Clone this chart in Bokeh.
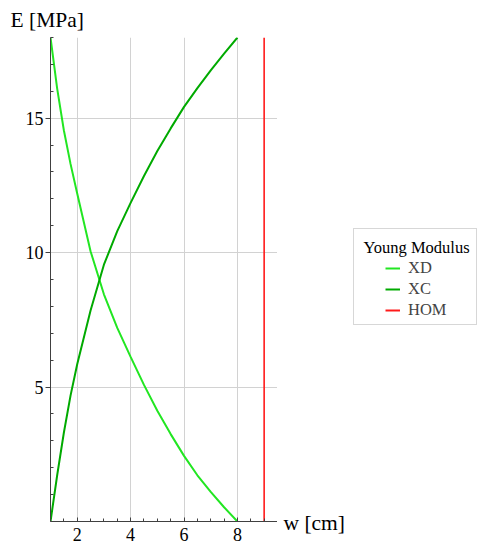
from bokeh.plotting import figure
from bokeh.layouts import row
from bokeh.models import LinearAxis, FixedTicker, Grid, Legend, LegendItem, Label, Range1d
from bokeh.embed import file_html
from bokeh.resources import INLINE

# ---- data ----
w_xd = [1, 1.25, 1.5, 1.75, 2, 2.5, 3, 3.5, 4, 4.5, 5, 5.5, 6, 6.5, 7, 7.5, 8]
e_xd = [18.0, 16.1, 14.55, 13.3, 12.2, 10.05, 8.45, 7.2, 6.12, 5.08, 4.12, 3.25, 2.44, 1.72, 1.1, 0.53, 0.0]

w_xc = [1, 1.25, 1.5, 1.75, 2, 2.5, 3, 3.5, 4, 4.5, 5, 5.5, 6, 6.5, 7, 7.5, 8]
e_xc = [0.0, 1.72, 3.3, 4.68, 5.85, 7.85, 9.55, 10.8, 11.85, 12.85, 13.78, 14.62, 15.42, 16.12, 16.78, 17.4, 18.0]

w_hom = [9, 9]
e_hom = [0, 18]

x_major = [2, 4, 6, 8]
x_minor = [1, 1.5, 2.5, 3, 3.5, 4.5, 5, 5.5, 6.5, 7, 7.5, 8.5, 9, 9.5]
y_major = [5, 10, 15]
y_minor = [1, 2, 3, 4, 6, 7, 8, 9, 11, 12, 13, 14, 16, 17, 18]

legend_title = "Young Modulus"
series_names = ["XD", "XC", "HOM"]
series_colors = ["#22e622", "#00aa00", "#ff1a1a"]
x_label = "w [cm]"
y_label = "E [MPa]"

FONT = "'Liberation Serif'"
AXIS_COLOR = "#404040"
GRID_COLOR = "#d2d2d2"

# ---------------- main plot ----------------
p = figure(width=277, height=548,
           x_range=Range1d(1, 9.5), y_range=Range1d(0, 18),
           x_axis_type=None, y_axis_type=None,
           output_backend="svg", toolbar_location=None,
           min_border_left=50, min_border_right=0,
           min_border_top=37, min_border_bottom=27)
p.outline_line_color = None
p.background_fill_color = "white"
p.border_fill_color = "white"

p.title.text = y_label
p.title.align = "left"
p.title.offset = -40
p.title.standoff = 11
p.title.text_font = FONT
p.title.text_font_size = "21.5px"
p.title.text_font_style = "normal"
p.title.text_color = "black"

xticker = FixedTicker(ticks=x_major, minor_ticks=x_minor)
yticker = FixedTicker(ticks=y_major, minor_ticks=y_minor)

p.add_layout(Grid(dimension=0, ticker=xticker, grid_line_color=GRID_COLOR, grid_line_width=1))
p.add_layout(Grid(dimension=1, ticker=yticker, grid_line_color=GRID_COLOR, grid_line_width=1))

xaxis = LinearAxis(ticker=xticker)
yaxis = LinearAxis(ticker=yticker)
for ax in (xaxis, yaxis):
    ax.axis_line_color = AXIS_COLOR
    ax.major_tick_line_color = AXIS_COLOR
    ax.minor_tick_line_color = AXIS_COLOR
    ax.major_label_text_font = FONT
    ax.major_label_text_font_size = "18px"
    ax.major_label_text_color = "black"
    ax.minor_tick_in = 3
    ax.minor_tick_out = 0
xaxis.major_tick_in = 4
xaxis.major_tick_out = 0
xaxis.major_label_standoff = 6
yaxis.major_tick_in = 0
yaxis.major_tick_out = 5
yaxis.major_label_standoff = 2
p.add_layout(xaxis, "below")
p.add_layout(yaxis, "left")

p.line(w_xd, e_xd, line_color=series_colors[0], line_width=2)
p.line(w_xc, e_xc, line_color=series_colors[1], line_width=2)
p.line(w_hom, e_hom, line_color=series_colors[2], line_width=1.6)

# ---------------- side panel (axis label + legend) ----------------
side = figure(width=205, height=548,
              x_range=Range1d(0, 1), y_range=Range1d(0, 1),
              x_axis_type=None, y_axis_type=None,
              output_backend="svg", toolbar_location=None,
              min_border=0)
side.title = None
if "frame_align" in side.properties():
    side.frame_align = False
    p.frame_align = False
side.outline_line_color = None
side.background_fill_color = "white"
side.border_fill_color = "white"

nan = float("nan")
keys = [side.line([nan], [nan], line_color=c, line_width=2) for c in series_colors]
blank = side.line([nan], [nan], line_alpha=0)

# legend title (drawn first so nothing covers it)
side.add_layout(Label(x=86, y=301, x_units="screen", y_units="screen", text=legend_title,
                      text_font=FONT, text_font_size="16.5px", text_baseline="alphabetic",
                      text_color="black"))

# legend frame (box only, transparent inside)
legend_box = Legend(items=[LegendItem(label=" ", renderers=[blank])], location=(76, 223))
legend_box.padding = 8
legend_box.margin = 0
legend_box.glyph_width = 86
legend_box.glyph_height = 79
legend_box.label_height = 79
legend_box.label_width = 20
legend_box.label_standoff = 0
legend_box.label_text_font_size = "1px"
legend_box.border_line_color = "#b0b0b0"
legend_box.border_line_width = 1
legend_box.background_fill_alpha = 0
side.add_layout(legend_box)

# legend entries
legend = Legend(items=[LegendItem(label=n, renderers=[k]) for n, k in zip(series_names, keys)],
                location=(108, 228))
legend.label_text_font = FONT
legend.label_text_font_size = "16.5px"
legend.label_height = 20
legend.glyph_height = 20
legend.glyph_width = 15
legend.label_standoff = 8
legend.spacing = 1
legend.padding = 0
legend.margin = 0
legend.border_line_color = None
legend.background_fill_alpha = 0
side.add_layout(legend)

# x axis label
side.add_layout(Label(x=6, y=26, x_units="screen", y_units="screen", text=x_label,
                      text_font=FONT, text_font_size="21.5px", text_baseline="alphabetic",
                      text_color="black"))

layout = row(p, side, spacing=0)
open("out.html", "w").write(file_html(layout, INLINE))
